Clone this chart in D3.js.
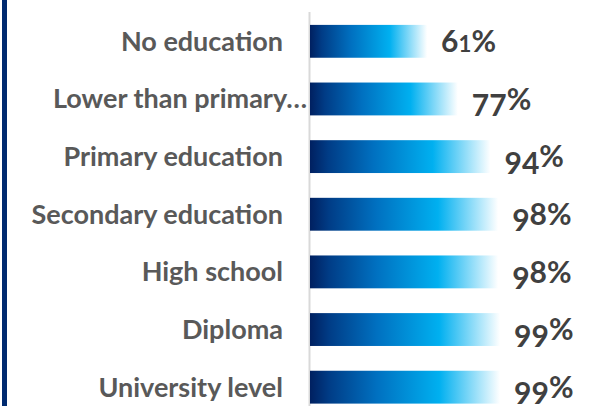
<!DOCTYPE html>
<html><head><meta charset="utf-8">
<script src="https://cdn.jsdelivr.net/npm/d3@7"></script>
<style>body{margin:0;background:#fff}</style></head>
<body><svg id="chart" width="598" height="406"></svg>
<script>
// Share with basic literacy by education level
const categories = ["No education", "Lower than primary…", "Primary education",
  "Secondary education", "High school", "Diploma", "University level"];
const values = [61, 77, 94, 98, 98, 99, 99];
const valueLabels = ["61%", "77%", "94%", "98%", "98%", "99%", "99%"];

const W = 598, H = 406;
const svg = d3.select("#chart");

const x = d3.scaleLinear().domain([0, 100]).range([310, 502]);
const y = d3.scaleBand().domain(categories).range([12.5, 416]).paddingInner(0.43).paddingOuter(0.215);

// Horizontal gradient used by every bar: navy → blue → cyan → white
const grad = svg.append("defs").append("linearGradient")
  .attr("id", "barGrad").attr("x1", "0%").attr("x2", "100%").attr("y1", "0%").attr("y2", "0%");
[[0, "#002060"], [0.1, "#003C86"], [0.35, "#0070C0"], [0.68, "#00B0F0"], [1, "#FFFFFF"]]
  .forEach(([o, c]) => grad.append("stop").attr("offset", o).attr("stop-color", c));

// Frame line on the left edge
svg.append("rect").attr("x", 2).attr("y", 0).attr("width", 5).attr("height", H).attr("fill", "#002A70");

// Category axis line
svg.append("line").attr("x1", x(0) - 0.5).attr("x2", x(0) - 0.5).attr("y1", 12).attr("y2", H)
  .attr("stroke", "#D9D9D9").attr("stroke-width", 2);

const rows = svg.append("g").selectAll("g").data(categories).join("g");

rows.append("rect")
  .attr("x", x(0))
  .attr("y", d => y(d))
  .attr("width", (d, i) => x(values[i]) - x(0))
  .attr("height", y.bandwidth())
  .attr("fill", "url(#barGrad)");

rows.append("text")
  .attr("x", d => d.endsWith("…") ? x(0) - 3 : x(0) - 27)
  .attr("y", d => y(d) + y.bandwidth() / 2 + 9.5)
  .attr("text-anchor", "end")
  .style("font-family", "Lato")
  .style("font-weight", 700)
  .style("font-size", "27px")
  .attr("fill", "#595959")
  .text(d => d);

// Value labels set in old-style figures: descending digits drop below the
// baseline, short digits sit at x-height, 6 and 8 keep full height.
const valSize = 30;
const descending = new Set(["3", "4", "5", "7", "9"]);
const short = new Set(["0", "1", "2"]);
const drop = 0.21 * valSize;

rows.append("text")
  .attr("x", (d, i) => x(values[i]) + 14)
  .attr("y", d => y(d) + y.bandwidth() / 2 + valSize * 0.36)
  .style("font-family", "Lato")
  .style("font-weight", 700)
  .style("font-size", valSize + "px")
  .attr("fill", "#404040")
  .each(function (d, i) {
    const t = d3.select(this);
    let prev = 0;
    for (const ch of valueLabels[i]) {
      const shift = descending.has(ch) ? drop : 0;
      t.append("tspan")
        .attr("dy", shift - prev)
        .style("font-size", short.has(ch) ? (valSize * 0.74) + "px" : null)
        .text(ch);
      prev = shift;
    }
  });
</script></body></html>
